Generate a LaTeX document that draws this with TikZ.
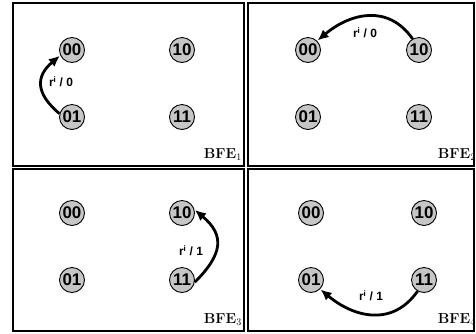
\documentclass[tikz,border=0pt]{standalone}
\usepackage{fontspec}
\setsansfont{Liberation Sans}
\usetikzlibrary{arrows.meta}
\tikzset{
  st/.style={circle, draw=black, line width=0.9pt, fill=gray!45, minimum size=25bp, inner sep=0pt,
    font=\sffamily\bfseries\fontsize{17}{17}\selectfont},
  panel/.style={draw=black, line width=1.1pt},
  tr/.style={line width=2.8pt, -{Latex[length=11bp,width=10bp]}, shorten >=0.5bp},
  lbl/.style={font=\sffamily\bfseries\fontsize{12}{12}\selectfont, inner sep=0pt},
  bfe/.style={font=\bfseries\fontsize{14.5}{14.5}\selectfont, inner sep=0pt, anchor=south east}
}
\begin{document}
\begin{tikzpicture}[x=1bp,y=-1bp]
\useasboundingbox (0,0) rectangle (476,333);
% panels
\draw[panel] (13,3) rectangle (244,166);
\draw[panel] (248,3) rectangle (474,166);
\draw[panel] (13,169) rectangle (244,331);
\draw[panel] (248,169) rectangle (474,331);
% panel 1
\node[st] (a00) at (72,50) {00};
\node[st] (a10) at (182,50) {10};
\node[st] (a01) at (72,117) {01};
\node[st] (a11) at (182,117) {11};
\node[bfe] (ab) at (242,161) {BFE$_{1}$};
\draw[tr] (a01.165) to[out=140, in=220, looseness=1.4] (a00.205);
\node[lbl] (al) at (61,82) {r\textsuperscript{i} / 0};
% panel 2
\node[st] (b00) at (308,50) {00};
\node[st] (b10) at (419,50) {10};
\node[st] (b01) at (308,117) {01};
\node[st] (b11) at (419,117) {11};
\node[bfe] (bb) at (476,161) {BFE$_{2}$};
\draw[tr] (b10.120) to[out=125, in=40, looseness=1.15] (b00.45);
\node[lbl] (bl) at (365,33) {r\textsuperscript{i} / 0};
% panel 3
\node[st] (c00) at (72,213) {00};
\node[st] (c10) at (182,213) {10};
\node[st] (c01) at (72,280) {01};
\node[st] (c11) at (182,280) {11};
\node[bfe] (cb) at (242,326) {BFE$_{3}$};
\draw[tr] (c11.-10) to[out=45, in=-40, looseness=1.4] (c10.15);
\node[lbl] (cl) at (191,251) {r\textsuperscript{i} / 1};
% panel 4
\node[st] (d00) at (311,213) {00};
\node[st] (d10) at (424,213) {10};
\node[st] (d01) at (311,280) {01};
\node[st] (d11) at (424,280) {11};
\node[bfe] (db) at (476,326) {BFE$_{4}$};
\draw[tr] (d11.240) to[out=235, in=-40, looseness=1.15] (d01.-45);
\node[lbl] (dl) at (371,296) {r\textsuperscript{i} / 1};
\end{tikzpicture}
\end{document}
